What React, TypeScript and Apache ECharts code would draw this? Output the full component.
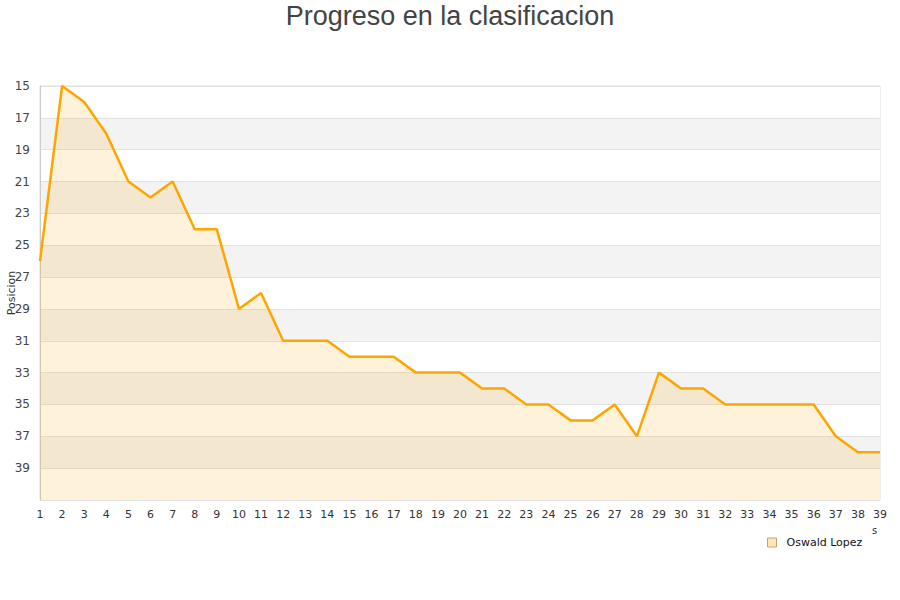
import React, { useEffect, useRef } from "react";
import * as echarts from "echarts";

const jornadas: string[] = Array.from({ length: 39 }, (_, i) => String(i + 1));
const posiciones: number[] = [
  26, 15, 16, 18, 21, 22, 21, 24, 24, 29, 28, 31, 31, 31, 32, 32, 32, 33, 33, 33,
  34, 34, 35, 35, 36, 36, 35, 37, 33, 34, 34, 35, 35, 35, 35, 35, 37, 38, 38,
];
const seriesName = "Oswald Lopez";
const titleText = "Progreso en la clasificacion";
const yName = "Posicion";

export default function App() {
  const ref = useRef<HTMLDivElement>(null);
  useEffect(() => {
    if (!ref.current) return;
    document.body.style.margin = "0";
    const chart = echarts.init(ref.current, undefined, { renderer: "svg" });
    chart.setOption({
      animation: false,
      title: {
        text: titleText,
        left: "center",
        top: -3,
        textStyle: {
          fontFamily: "Liberation Sans",
          fontSize: 27,
          fontWeight: "normal",
          color: "#444",
        },
      },
      grid: {
        left: 40,
        right: 20,
        top: 86,
        bottom: 100,
        outerBoundsMode: "none",
        containLabel: false,
        show: true,
        borderColor: "#ddd",
        borderWidth: 1,
        backgroundColor: "transparent",
      },
      legend: {
        data: [seriesName],
        left: 762,
        top: 532,
        itemWidth: 9,
        itemHeight: 9,
        icon: "rect",
        textStyle: {
          fontFamily: "DejaVu Sans",
          fontSize: 11,
          color: "#111",
          padding: [0, 0, 0, 5],
        },
        itemStyle: { color: "#ffe5bb", borderColor: "#c9a46a", borderWidth: 1 },
      },
      xAxis: {
        type: "category",
        data: jornadas,
        boundaryGap: false,
        axisLine: { show: false },
        axisTick: { show: false },
        axisLabel: {
          interval: 0,
          fontFamily: "DejaVu Sans",
          fontSize: 11,
          color: "#333",
          margin: 9,
        },
        splitLine: { show: false },
      },
      yAxis: {
        type: "value",
        inverse: true,
        min: 15,
        max: 41,
        interval: 2,
        axisLine: { show: true, lineStyle: { color: "#ccc" } },
        axisTick: { show: false },
        axisLabel: {
          fontFamily: "DejaVu Sans",
          fontSize: 12,
          color: "#444",
          margin: 10,
          formatter: (v: number) => (v === 41 ? "" : String(v)),
        },
        splitLine: { show: true, lineStyle: { color: "#e2e2e2" } },
        splitArea: { show: true, areaStyle: { color: ["#ffffff", "#f3f3f3"] } },
      },
      graphic: [
        {
          type: "text",
          x: 11,
          y: 293,
          rotation: Math.PI / 2,
          style: {
            text: yName,
            fontFamily: "DejaVu Sans",
            fontSize: 11,
            fill: "#333",
            align: "center",
            verticalAlign: "middle",
          },
        },
        {
          type: "text",
          left: 872,
          top: 525,
          style: { text: "s", fontFamily: "DejaVu Sans", fontSize: 10, fill: "#333" },
        },
      ],
      series: [
        {
          name: seriesName,
          type: "line",
          data: posiciones,
          symbol: "none",
          lineStyle: { color: "#ffa500", width: 2.5 },
          itemStyle: { color: "#ffe5bb", borderColor: "#c9a46a" },
          areaStyle: { origin: "end", color: "rgba(255,165,0,0.2)" },
        },
      ],
    });
    return () => chart.dispose();
  }, []);
  return <div ref={ref} style={{ width: 900, height: 600 }} />;
}
